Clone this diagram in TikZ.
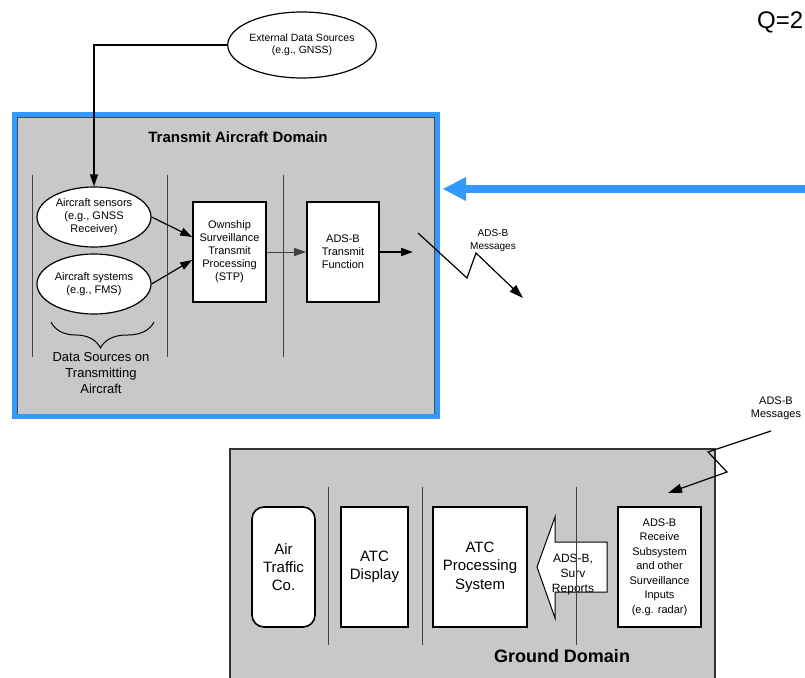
\documentclass[tikz,border=0pt]{standalone}
\usepackage{fontspec}
\setmainfont{Liberation Sans}
\usetikzlibrary{arrows.meta,shapes.geometric,decorations.pathreplacing,calc}

\definecolor{panelgray}{RGB}{200,200,200}
\definecolor{frameblue}{RGB}{51,153,255}
\newcommand\szf[2]{\fontsize{#1}{#2}\selectfont}

\begin{document}
\begin{tikzpicture}[x=1pt,y=-1pt,
  every node/.style={inner sep=0pt, align=center},
  blockbox/.style={draw=black, line width=1.6pt, fill=white, minimum height=#1},
  blockbox/.default=100pt,
  oval/.style={ellipse, draw=black, line width=1.2pt, fill=white},
  divider/.style={draw=black!75, line width=1pt},
  flow/.style={-{Triangle[length=12pt,width=8pt]}, line width=1.2pt},
  bolt/.style={-{Triangle[length=14pt,width=9pt]}, line width=1.2pt, line join=miter}]

\useasboundingbox (0,0) rectangle (805,677);
\clip (0,0) rectangle (805,677);

% ---------------- transmit aircraft domain ----------------
\node[fill=panelgray, draw=black!70, line width=1pt,
      minimum width=417pt, minimum height=297pt] (txpanel) at (225.5,265.5) {};
\node[draw=frameblue, line width=5pt,
      minimum width=423pt, minimum height=302pt] (txframe) at (226,265.5) {};
\node[font=\bfseries\szf{15}{18}] (txtitle) at (238,137) {Transmit Aircraft Domain};

\draw[divider] (32,175) -- (32,357);
\draw[divider] (167,175) -- (167,357);
\draw[divider] (283,175) -- (283,357);

\node[oval, minimum width=130pt, minimum height=66pt, font=\szf{10.5}{12}]
  (extsrc) at (302,45) {External Data Sources\\(e.g., GNSS)};

\node[oval, minimum width=114pt, minimum height=60pt, font=\szf{11}{13}]
  (sensors) at (94,217) {Aircraft sensors\\(e.g., GNSS\\Receiver)};
\node[oval, minimum width=114pt, minimum height=60pt, font=\szf{11}{13}]
  (systems) at (94,284) {Aircraft systems\\(e.g., FMS)};

\node[blockbox, minimum width=73pt, font=\szf{11}{13}]
  (stp) at (229.5,252) {Ownship\\Surveillance\\Transmit\\Processing\\(STP)};
\node[blockbox, minimum width=72pt, font=\szf{11}{13}]
  (adsbtx) at (343,252) {ADS-B\\Transmit\\Function};

\draw[flow] (extsrc.west) -| (sensors.north);
\draw[flow] (sensors.east) -- ([yshift=15pt]stp.west);
\draw[flow] (systems.east) -- ([yshift=-8pt]stp.west);
\draw[flow, line width=1pt, draw=black!75] (stp.east) -- (adsbtx.west);
\coordinate (txout) at (413,252);
\draw[flow, line width=1.8pt] (adsbtx.east) -- (txout);

\draw[decorate, decoration={brace, amplitude=26pt, aspect=0.48, mirror}, line width=1pt]
  (51,322) -- (154,322);
\node[font=\szf{13}{16}] (srclabel) at (101,373) {Data Sources on\\Transmitting\\Aircraft};

% broadcast link leaving the aircraft
\coordinate (txbolt0) at (418,233);
\coordinate (txbolt1) at (467,278);
\coordinate (txbolt2) at (476,253);
\coordinate (txbolt3) at (523,298);
\draw[bolt] (txbolt0) -- (txbolt1) -- (txbolt2) -- (txbolt3);
\node[font=\szf{10}{13}] (msgtx) at (493,240.5) {ADS-B\\Messages};

% highlight pointer
\coordinate (bluetail) at (812,189);
\draw[frameblue, line width=8pt, -{Triangle[length=23pt,width=24pt,line width=0pt]}]
  (bluetail) -- ($(txframe.east |- bluetail)+(3,0)$);

% ---------------- ground domain ----------------
\node[fill=panelgray, draw=black!80, line width=1.5pt,
      minimum width=485pt, minimum height=250pt] (gndpanel) at (472.5,574) {};
\node[font=\bfseries\szf{18}{20}] (gndtitle) at (562,656) {Ground Domain};

\draw[divider] (328,486.5) -- (328,644.5);
\draw[divider] (422,486.5) -- (422,644.5);

\node[blockbox=120pt, rounded corners=12pt, minimum width=63pt, font=\szf{15}{18}]
  (atco) at (283.5,567) {Air\\Traffic\\Co.};
\node[blockbox=120pt, minimum width=67pt, font=\szf{15}{18}]
  (atcdisp) at (374.5,567) {ATC\\Display};
\node[blockbox=120pt, minimum width=94pt, font=\szf{15}{18.5}]
  (atcproc) at (480,567) {ATC\\Processing\\System};
\node[blockbox=120pt, minimum width=83pt, font=\szf{11}{14.5}]
  (rxsub) at (659.5,567) {ADS-B\\Receive\\Subsystem\\and other\\Surveillance\\Inputs\\(e.g. radar)};

% hollow arrow carrying surveillance reports
\draw[fill=white, line width=1pt]
  (537,567) -- (555,517) -- (555,542) -- (607,542) -- (607,592)
  -- (555,592) -- (555,618) -- cycle;
\node[font=\szf{12}{15}] (survrep) at (573,575) {ADS-B,\\Surv\\Reports};
\draw[divider] (576,486.5) -- (576,644.5);

% broadcast link arriving at the ground station
\coordinate (rxbolt0) at (771,431);
\coordinate (rxbolt1) at (708,452);
\coordinate (rxbolt2) at (727,472);
\coordinate (rxbolt3) at (668,493);
\draw[bolt] (rxbolt0) -- (rxbolt1) -- (rxbolt2) -- (rxbolt3);
\node[font=\szf{11}{13}] (msgrx) at (776,408.5) {ADS-B\\Messages};

\node[anchor=west, font=\szf{24}{24}] (qlabel) at (757,22) {Q=2};
\end{tikzpicture}
\end{document}
